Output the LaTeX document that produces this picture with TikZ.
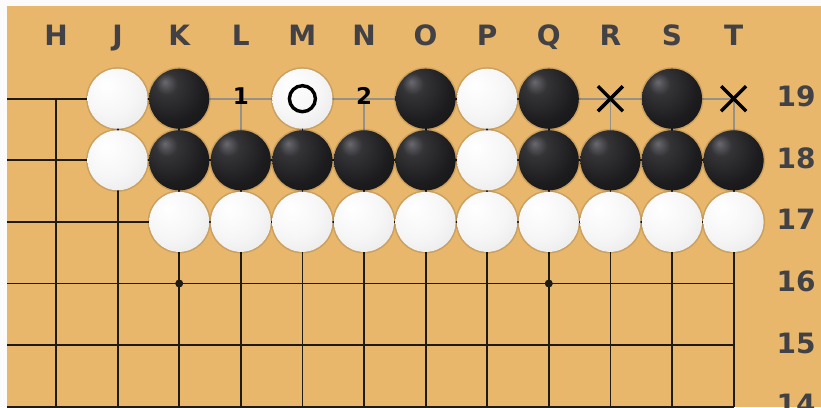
\documentclass[tikz,border=0pt]{standalone}
\usepackage{fontspec}
\newfontfamily\labfont{DejaVu Sans}
\definecolor{board}{RGB}{233,183,107}
\definecolor{labcol}{RGB}{66,66,70}
\definecolor{gridcol}{RGB}{30,26,20}
\definecolor{greyline}{RGB}{150,145,135}
\definecolor{bsA}{RGB}{105,105,110}
\definecolor{bsB}{RGB}{52,52,55}
\definecolor{bsC}{RGB}{28,28,30}
\definecolor{bsD}{RGB}{14,14,15}
\definecolor{wsA}{RGB}{255,255,255}
\definecolor{wsB}{RGB}{246,246,246}
\definecolor{wsC}{RGB}{226,226,228}
\definecolor{wsD}{RGB}{180,180,186}
\pgfdeclareradialshading{blackstone}{\pgfpoint{-12bp}{14bp}}{color(0bp)=(bsA); color(9bp)=(bsB); color(28bp)=(bsC); color(55bp)=(bsD); color(75bp)=(bsD)}
\pgfdeclareradialshading{whitestone}{\pgfpoint{-10bp}{12bp}}{color(0bp)=(wsA); color(22bp)=(wsB); color(48bp)=(wsC); color(62bp)=(wsD); color(75bp)=(wsD)}
\tikzset{
  gridline/.style={draw=gridcol, line width=1.8pt},
  greyseg/.style={draw=greyline, line width=1.8pt},
  stone/.style={circle, inner sep=0pt, minimum size=60pt},
  bstone/.style={stone, shading=blackstone},
  wstone/.style={stone, shading=whitestone},
  coordlab/.style={font=\labfont\bfseries\fontsize{28}{28}\selectfont, text=labcol, inner sep=0pt, anchor=base},
  movelab/.style={font=\labfont\bfseries\fontsize{23}{23}\selectfont, text=black, inner sep=0pt, anchor=base},
  starpt/.style={circle, fill=gridcol, inner sep=0pt, minimum size=8pt},
  ringmark/.style={draw=black, line width=3.4pt},
  crossmark/.style={draw=black, line width=3.4pt}
}
\begin{document}
\begin{tikzpicture}[x=1pt,y=-1pt]
\useasboundingbox (0,0) rectangle (821,407);
\fill[white!97!gray] (0,0) rectangle (821,407);
\fill[board] (7,6) rectangle (821,407);
\coordinate (left) at (7,0);
\coordinate (bottom) at (0,407);
\foreach \c [count=\i from 0] in {H,J,K,L,M,N,O,P,Q,R,S,T}
  \coordinate (c\c) at ({56+61.6*\i},0);
\foreach \r [count=\i from 0] in {19,18,17,16,15,14}
  \coordinate (r\r) at (0,{98.7+61.6*\i});
% grid
\foreach \r in {19,18,17,16,15,14}
  \draw[gridline] (left |- r\r) -- (cT |- r\r);
\foreach \c in {H,J,K,L,M,N,O,P,Q,R,S,T}
  \draw[gridline] (c\c |- r19) -- (c\c |- bottom);
% grey segments around labelled points
\draw[greyseg] (cK |- r19) -- (cO |- r19);
\draw[greyseg] (cQ |- r19) -- (cT |- r19);
\foreach \c in {L,N,R,T}
  \draw[greyseg] (c\c |- r19) -- (c\c |- r18);
% star points
\node[starpt] (hK16) at (cK |- r16) {};
\node[starpt] (hQ16) at (cQ |- r16) {};
% shadows
\foreach \c/\r in {J/19,J/18,M/19,P/19,P/18,K/17,L/17,M/17,N/17,O/17,P/17,Q/17,R/17,S/17,T/17,K/19,O/19,Q/19,S/19,K/18,L/18,M/18,N/18,O/18,Q/18,R/18,S/18,T/18}{
  \begin{scope}[shift={(3.5,4)}]
    \fill[black, opacity=0.12] (c\c |- r\r) circle (31.5);
    \fill[black, opacity=0.18] (c\c |- r\r) circle (30);
    \fill[black, opacity=0.20] (c\c |- r\r) circle (28);
  \end{scope}
}
% white stones
\foreach \c/\r in {J/19,J/18,M/19,P/19,P/18,K/17,L/17,M/17,N/17,O/17,P/17,Q/17,R/17,S/17,T/17}
  \node[wstone] (s\c\r) at (c\c |- r\r) {};
% black stones
\foreach \c/\r in {K/19,O/19,Q/19,S/19,K/18,L/18,M/18,N/18,O/18,Q/18,R/18,S/18,T/18}
  \node[bstone] (s\c\r) at (c\c |- r\r) {};
% marks
\draw[ringmark] (sM19.center) circle (13);
\node[movelab] (m1) at ([yshift=-5.5pt]cL |- r19) {1};
\node[movelab] (m2) at ([yshift=-5.5pt]cN |- r19) {2};
\coordinate (xR) at (cR |- r19);
\coordinate (xT) at (cT |- r19);
\foreach \p in {xR,xT}{
  \draw[crossmark] ([shift={(-12.5,-12.5)}]\p) -- ([shift={(12.5,12.5)}]\p);
  \draw[crossmark] ([shift={(-12.5,12.5)}]\p) -- ([shift={(12.5,-12.5)}]\p);
}
% coordinate labels
\foreach \c in {H,J,K,L,M,N,O,P,Q,R,S,T}
  \node[coordlab] (t\c) at ([yshift=-45.5pt]c\c |- 0,0) {\c};
\foreach \r in {19,18,17,16,15,14}
  \node[coordlab] (n\r) at ([yshift=-8pt]796,0 |- r\r) {\r};
\end{tikzpicture}
\end{document}
